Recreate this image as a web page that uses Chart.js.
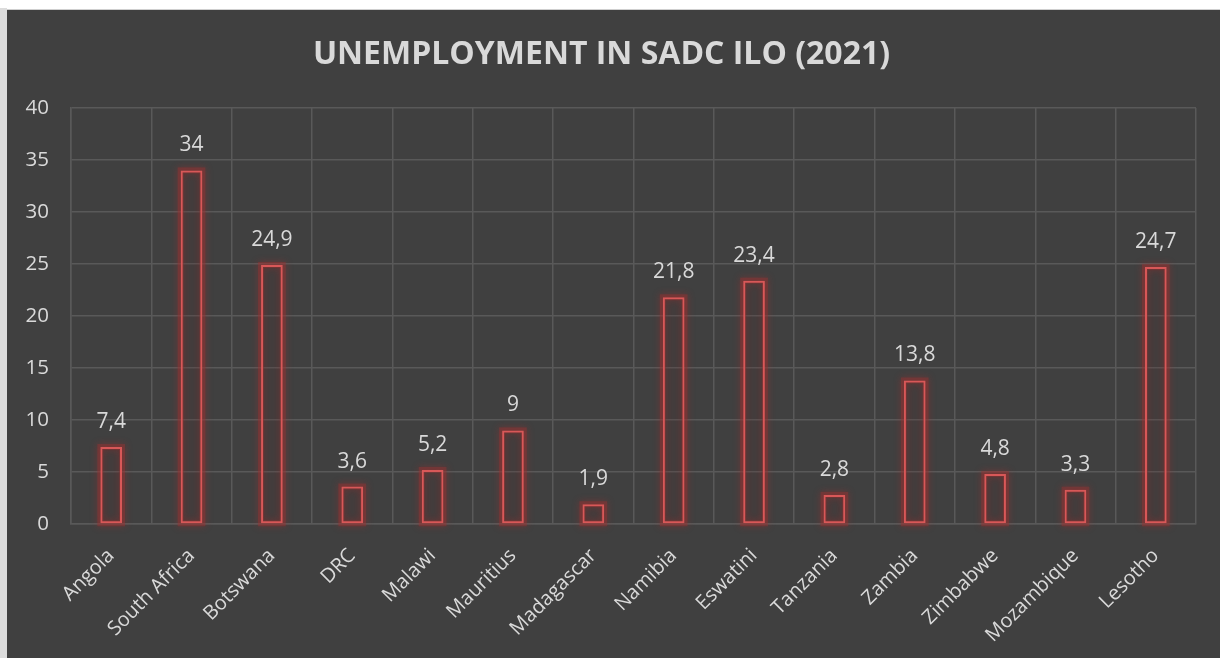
<!DOCTYPE html>
<html>
<head>
<meta charset="utf-8">
<script src="https://cdn.jsdelivr.net/npm/chart.js@4.4.0/dist/chart.umd.min.js"></script>
<style>
  html, body { margin: 0; padding: 0; background: #ffffff; }
  #edge { position: absolute; left: 0; top: 8px; width: 7px; height: 650px; background: #dcdcdc; }
  #box { position: absolute; left: 7px; top: 9px; width: 1213px; height: 649px; background: #404040; border-top: 1px solid #cfcfcf; box-sizing: border-box; }
  canvas { display: block; }
</style>
</head>
<body>
<div id="edge"></div>
<div id="box"><canvas id="chart" width="1213" height="648"></canvas></div>
<script>
// ILO unemployment rates, SADC countries, 2021
const countries = ['Angola', 'South Africa', 'Botswana', 'DRC', 'Malawi', 'Mauritius', 'Madagascar',
    'Namibia', 'Eswatini', 'Tanzania', 'Zambia', 'Zimbabwe', 'Mozambique', 'Lesotho'];
const unemployment = [7.4, 34, 24.9, 3.6, 5.2, 9, 1.9, 21.8, 23.4, 2.8, 13.8, 4.8, 3.3, 24.7];
const yTicks = [0, 5, 10, 15, 20, 25, 30, 35, 40];

const textColor = '#d9d9d9';
const gridColor = '#595959';
const fontFamily = '"Open Sans", "Noto Sans", sans-serif';

// soft red glow behind the bar outlines
const glowPlugin = {
    id: 'glow',
    beforeDatasetsDraw(chart) {
        const ctx = chart.ctx;
        const meta = chart.getDatasetMeta(0);
        ctx.save();
        ctx.strokeStyle = 'rgba(150, 50, 50, 0.45)';
        ctx.lineWidth = 6;
        ctx.shadowColor = 'rgba(190, 40, 40, 0.75)';
        ctx.shadowBlur = 7;
        meta.data.forEach(bar => {
            const left = bar.x - bar.width / 2;
            ctx.strokeRect(left, bar.y, bar.width, bar.base - bar.y);
        });
        ctx.restore();
    }
};

// value labels above each bar, comma decimals
const valueLabels = {
    id: 'valueLabels',
    afterDraw(chart) {
        const ctx = chart.ctx;
        const meta = chart.getDatasetMeta(0);
        ctx.save();
        ctx.fillStyle = textColor;
        ctx.font = '21px ' + fontFamily;
        ctx.textAlign = 'center';
        ctx.textBaseline = 'middle';
        meta.data.forEach((bar, i) => {
            const txt = String(unemployment[i]).replace('.', ',');
            ctx.fillText(txt, bar.x, bar.y - 25);
        });
        ctx.restore();
    }
};

new Chart(document.getElementById('chart').getContext('2d'), {
    type: 'bar',
    data: {
        labels: countries,
        datasets: [{
            data: unemployment,
            backgroundColor: 'rgba(90, 40, 40, 0.15)',
            borderColor: '#d85858',
            borderWidth: 2,
            borderSkipped: false,
            barPercentage: 0.27,
            categoryPercentage: 1
        }]
    },
    options: {
        responsive: false,
        animation: false,
        layout: { padding: { left: 0, right: 24, top: 0, bottom: 0 } },
        plugins: {
            legend: { display: false },
            tooltip: { enabled: false },
            title: {
                display: true,
                text: 'UNEMPLOYMENT IN SADC ILO (2021)',
                color: textColor,
                font: { family: fontFamily, size: 32, weight: 'bold', lineHeight: 1.2 },
                padding: { top: 26, bottom: 33.6 }
            }
        },
        scales: {
            y: {
                min: 0,
                max: 40,
                afterBuildTicks(axis) {
                    axis.ticks = yTicks.map(v => ({ value: v }));
                },
                afterFit(axis) { axis.width = 64; },
                grid: { color: gridColor, lineWidth: 1.5, drawTicks: false },
                border: { display: true, color: gridColor, width: 1.5 },
                ticks: { color: textColor, padding: 22, font: { family: fontFamily, size: 20.5 } }
            },
            x: {
                afterFit(axis) { axis.height = 134; },
                grid: { color: gridColor, lineWidth: 1.5, drawTicks: false, offset: true },
                border: { display: true, color: gridColor, width: 1.5 },
                ticks: {
                    color: textColor,
                    padding: 20,
                    minRotation: 45,
                    maxRotation: 45,
                    autoSkip: false,
                    font: { family: fontFamily, size: 20 }
                }
            }
        }
    },
    plugins: [glowPlugin, valueLabels]
});
</script>
</body>
</html>
